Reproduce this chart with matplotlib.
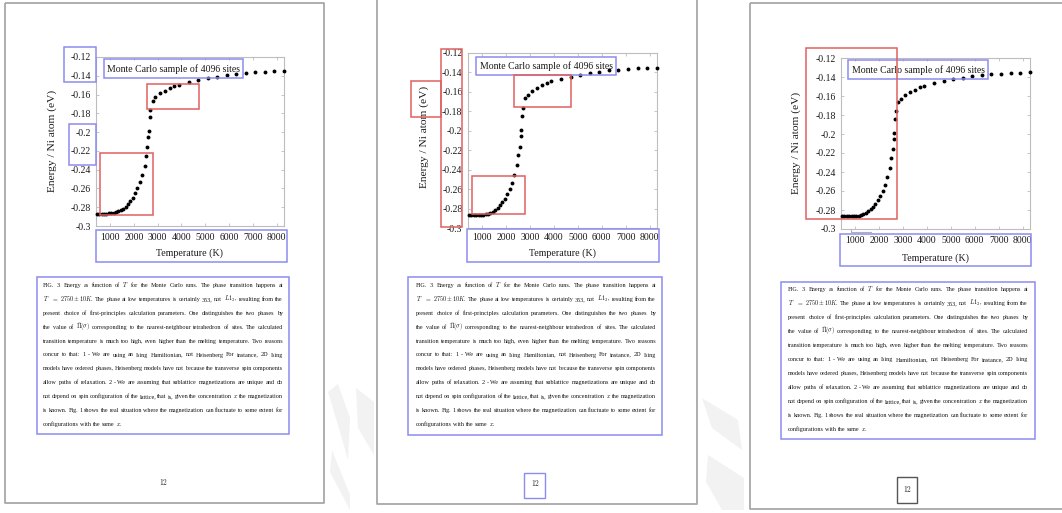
import matplotlib
matplotlib.use("Agg")
import matplotlib.pyplot as plt
from matplotlib.patches import Rectangle, Polygon
from matplotlib.lines import Line2D
from matplotlib.ticker import FuncFormatter

# ---- data -------------------------------------------------------------
temperature_k = [450, 550, 650, 750, 850, 950, 1050, 1150, 1250, 1350, 1450,
                 1550, 1650, 1750, 1850, 1950, 2050, 2150, 2250, 2350, 2450,
                 2520, 2570, 2610, 2640, 2670, 2700, 2800, 2900, 3100, 3300,
                 3500, 3700, 3900, 4300, 4700, 5100, 5500, 5900, 6300, 6700,
                 7100, 7500, 7900, 8300]
energy_ev = [-0.2868, -0.2868, -0.2868, -0.2867, -0.2867, -0.2865, -0.2863,
             -0.2860, -0.2854, -0.2845, -0.2831, -0.2815, -0.2794, -0.2768,
             -0.2737, -0.2698, -0.2650, -0.2595, -0.2533, -0.2452, -0.2357,
             -0.2253, -0.2163, -0.2057, -0.1990, -0.1843, -0.1762, -0.1665,
             -0.1628, -0.1588, -0.1557, -0.1532, -0.1508, -0.1493, -0.1465,
             -0.1443, -0.1425, -0.1410, -0.1393, -0.1379, -0.1371, -0.1364,
             -0.1358, -0.1354, -0.1351]
x_ticks = [1000, 2000, 3000, 4000, 5000, 6000, 7000, 8000]
y_ticks = [-0.3, -0.28, -0.26, -0.24, -0.22, -0.2, -0.18, -0.16, -0.14, -0.12]
x_label = "Temperature (K)"
y_label = "Energy / Ni atom (eV)"
sample_note = "Monte Carlo sample of 4096 sites"
page_number = "12"
caption_lines = [
    r"FIG. 3.  Energy as function of $T$ for the Monte Carlo runs.  The phase transition happens at",
    r"$T$ $=$ $2750\pm10K$.  The phase at low temperatures is certainly 353, not $L1_2$, resulting from the",
    r"present choice of first-principles calculation parameters.  One distinguishes the two phases by",
    r"the value of $\bar{\Pi}(\sigma)$ corresponding to the nearest-neighbour tetrahedron of sites.  The calculated",
    r"transition temperature is much too high, even higher than the melting temperature. Two reasons",
    r"concur to that:  1 - We are using an Ising Hamiltonian, not Heisenberg For instance, 2D Ising",
    r"models have ordered phases, Heisenberg models have not because the transverse spin components",
    r"allow paths of relaxation.  2 - We are assuming that sublattice magnetizations are unique and do",
    r"not depend on spin configuration of the lattice, that is, given the concentration $x$ the magnetization",
    r"is known.  Fig. 1 shows the real situation where the magnetization can fluctuate to some extent for",
    r"configurations with the same $x$.",
]

# ---- styling ----------------------------------------------------------
plt.rcParams["font.family"] = ["Liberation Serif", "DejaVu Serif"]
plt.rcParams["mathtext.fontset"] = "cm"
plt.rcParams["axes.unicode_minus"] = False

W, H = 1062, 513
BLUE = "#8c8cf0"
RED = "#e06060"
PAGE = "#a8a8a8"
SPINE = "#bdbdbd"
CAP_FONT = "Liberation Serif"
CAP_WIDTH = 240.0

fig = plt.figure(figsize=(W / 100, H / 100), dpi=100)
fig.patch.set_facecolor("white")
renderer = fig.canvas.get_renderer()


def fx(x):
    return x / W


def fy(y):
    return 1 - y / H


def box(x0, y0, x1, y1, color, lw=1.1, z=6):
    fig.add_artist(Rectangle((fx(x0), fy(y1)), (x1 - x0) / W, (y1 - y0) / H,
                             transform=fig.transFigure, fill=False,
                             edgecolor=color, linewidth=lw, zorder=z))


def polyline(xs, ys, color, lw, z=1):
    fig.add_artist(Line2D([fx(x) for x in xs], [fy(y) for y in ys],
                          transform=fig.transFigure, color=color, lw=lw,
                          zorder=z, solid_capstyle="butt"))


def text_width(s, size):
    t = fig.text(0, 0, s, fontsize=size, family=CAP_FONT)
    w = t.get_window_extent(renderer).width
    t.remove()
    return w


def widest_line(size):
    space = text_width("a a", size) - text_width("aa", size)
    best = 0.0
    for line in caption_lines[:-1]:
        words = line.split()
        best = max(best, sum(text_width(w, size) for w in words)
                   + 0.7 * space * (len(words) - 1))
    return best


# faint watermark strokes in the gaps between the pages
for pts in ([(328, 392), (338, 384), (350, 418), (348, 460), (338, 425)],
            [(332, 450), (350, 495), (350, 510), (330, 472)],
            [(702, 398), (738, 420), (742, 450), (712, 428)],
            [(708, 455), (744, 478), (744, 510), (722, 510), (706, 482)],
            [(356, 388), (374, 402), (374, 455), (358, 428)]):
    fig.add_artist(Polygon([(fx(x), fy(y)) for x, y in pts], closed=True,
                           transform=fig.transFigure, facecolor="#f2f2f2",
                           edgecolor="none", zorder=0))

# ---- page layouts (pixel coordinates) ---------------------------------
pages = [
    dict(border=[(5, 3), (324, 503)], axes=(96, 57, 284, 226), xpad=5.2, ypad=3.6,
         ylab_x=52, ylab_y=141, xlab_y=253,
         note_box=(104, 59, 243, 78),
         blue=[(64, 47, 96, 82), (69, 124, 96, 165), (96, 230, 287, 262)],
         red=[(147, 84, 199, 109), (100, 153, 153, 215)],
         cap_box=(37, 277, 289, 434), cap_x=43, cap_y=285, cap_dy=13.9,
         num=(163, 483), num_box=None),
    dict(border=[(377, -5), (697, 504)], axes=(468, 53, 657, 228), xpad=3.6, ypad=4.0,
         ylab_x=424, ylab_y=137, xlab_y=253,
         note_box=(476, 57, 616, 75),
         blue=[(467, 229, 659, 262)],
         red=[(441, 49, 462, 227), (411, 81, 441, 117), (514, 75, 571, 107),
              (472, 176, 525, 214)],
         cap_box=(408, 277, 662, 435), cap_x=416, cap_y=285, cap_dy=13.9,
         num=(535, 484), num_box=((524, 473, 545, 498), BLUE)),
    dict(border=[(750, 3), (1070, 509)], axes=(841, 58, 1030, 229), xpad=5.0, ypad=3.6,
         ylab_x=796, ylab_y=143, xlab_y=258,
         note_box=(848, 60, 988, 79),
         blue=[(840, 234, 1031, 266)],
         red=[(806, 48, 897, 219)],
         cap_box=(781, 282, 1035, 439), cap_x=788, cap_y=289, cap_dy=14.0,
         num=(907, 490), num_box=((897, 477, 917, 503), "#555555")),
]

# caption size found at the rendering size itself, so the widest line fills the block
cap_size = 4.4
for _ in range(3):
    cap_size *= CAP_WIDTH / widest_line(cap_size)


def draw_caption(x0, y_first, dy):
    x1 = x0 + CAP_WIDTH
    space_w = text_width("a a", cap_size) - text_width("aa", cap_size)
    for i, line in enumerate(caption_lines):
        words = line.split()
        texts = [fig.text(0, 0, w, fontsize=cap_size, family=CAP_FONT,
                          color="#141414", ha="left", va="baseline", zorder=3)
                 for w in words]
        widths = [t.get_window_extent(renderer).width for t in texts]
        if i == len(caption_lines) - 1 or len(words) < 2:
            gap = space_w
        else:
            gap = (x1 - x0 - sum(widths)) / (len(words) - 1)
        x = x0
        yb = y_first + i * dy + 2.0
        for t, w in zip(texts, widths):
            t.set_position((fx(x), fy(yb)))
            x += w + gap


for p in pages:
    (bx0, by0), (bx1, by1) = p["border"]
    polyline([bx0, bx0, bx1, bx1, bx0], [by0, by1, by1, by0, by0], PAGE, 1.3)

    l, t, r, b = p["axes"]
    ax = fig.add_axes([fx(l), fy(b), (r - l) / W, (b - t) / H])
    ax.plot(temperature_k, energy_ev, "o", color="black", ms=2.8,
            mec="black", mew=0, clip_on=False, zorder=3)
    ax.set_xlim(410, 8310)
    ax.set_ylim(-0.3, -0.12)
    ax.set_xticks(x_ticks)
    ax.set_yticks(y_ticks)
    ax.xaxis.set_major_formatter(FuncFormatter(lambda v, pos: f"{v:.0f}"))
    ax.yaxis.set_major_formatter(FuncFormatter(lambda v, pos: f"{v:g}"))
    ax.tick_params(axis="both", direction="in", length=2.5, width=0.6,
                   color=SPINE, labelsize=7, labelcolor="#1a1a1a",
                   top=True, right=True)
    ax.tick_params(axis="x", pad=p["xpad"])
    ax.tick_params(axis="y", pad=p["ypad"])
    for s in ax.spines.values():
        s.set_color(SPINE)
        s.set_linewidth(0.8)

    fig.text(fx(p["ylab_x"]), fy(p["ylab_y"]), y_label, rotation=90,
             fontsize=8.2, ha="center", va="center", color="#1a1a1a")
    fig.text(fx((l + r) / 2), fy(p["xlab_y"]), x_label, fontsize=7.2,
             ha="center", va="center", color="#1a1a1a")

    nx0, ny0, nx1, ny1 = p["note_box"]
    fig.text(fx((nx0 + nx1) / 2), fy((ny0 + ny1) / 2 + 0.5), sample_note,
             fontsize=7, ha="center", va="center", color="#1a1a1a", zorder=4)
    box(nx0, ny0, nx1, ny1, BLUE)
    for bb in p["blue"]:
        box(*bb, BLUE)
    for rb in p["red"]:
        box(*rb, RED)

    box(*p["cap_box"], BLUE)
    draw_caption(p["cap_x"], p["cap_y"], p["cap_dy"])

    fig.text(fx(p["num"][0]), fy(p["num"][1]), page_number, fontsize=5.5,
             family="cmr10", ha="center", va="center", color="#2a2a2a")
    if p["num_box"] is not None:
        (q0, q1, q2, q3), col = p["num_box"]
        box(q0, q1, q2, q3, col, lw=1.0)

# small leader under the third chart's axis
polyline([851, 851, 871, 871], [229, 231.5, 231.5, 234], "#b0b0b0", 0.8, z=6)

fig.savefig("out.png", dpi=100, facecolor="white")
